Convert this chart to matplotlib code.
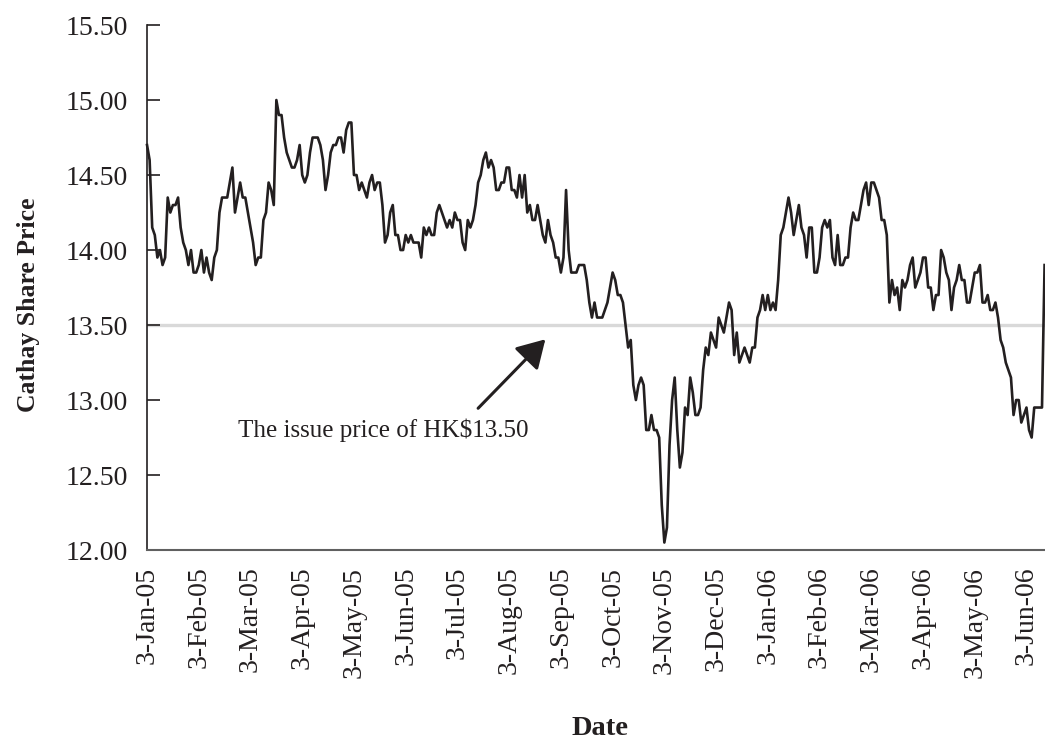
import numpy as np
import matplotlib.pyplot as plt

plt.rcParams['font.family'] = ['Liberation Serif', 'DejaVu Serif']

# Cathay share price (HK$), one value per trading day from 3-Jan-05
price = [
    # Jan-05 .. May-05
    14.70, 14.60, 14.15, 14.10, 13.95, 14.00, 13.90, 13.95, 14.35, 14.25,
    14.30, 14.30, 14.35, 14.15, 14.05, 14.00, 13.90, 14.00, 13.85, 13.85,
    13.90, 14.00, 13.85, 13.95, 13.85, 13.80, 13.95, 14.00, 14.25, 14.35,
    14.35, 14.35, 14.45, 14.55, 14.25, 14.35, 14.45, 14.35, 14.35, 14.25,
    14.15, 14.05, 13.90, 13.95, 13.95, 14.20, 14.25, 14.45, 14.40, 14.30,
    15.00, 14.90, 14.90, 14.75, 14.65, 14.60, 14.55, 14.55, 14.60, 14.70,
    14.50, 14.45, 14.50, 14.65, 14.75, 14.75, 14.75, 14.70, 14.60, 14.40,
    14.50, 14.65, 14.70, 14.70, 14.75, 14.75, 14.65, 14.80, 14.85, 14.85,
    14.50, 14.50, 14.40, 14.45, 14.40, 14.35, 14.45, 14.50,
    # May-05 .. Sep-05
    14.40, 14.45, 14.45, 14.30, 14.05, 14.10, 14.25, 14.30, 14.10, 14.10,
    14.00, 14.00, 14.10, 14.05, 14.10, 14.05, 14.05, 14.05, 13.95, 14.15,
    14.10, 14.15, 14.10, 14.10, 14.25, 14.30, 14.25, 14.20, 14.15, 14.20,
    14.15, 14.25, 14.20, 14.20, 14.05, 14.00, 14.20, 14.15, 14.20, 14.30,
    14.45, 14.50, 14.60, 14.65, 14.55, 14.60, 14.55, 14.40, 14.40, 14.45,
    14.45, 14.55, 14.55, 14.40, 14.40, 14.35, 14.50, 14.35, 14.50, 14.25,
    14.30, 14.20, 14.20, 14.30, 14.20, 14.10, 14.05, 14.20, 14.10, 14.05,
    13.95, 13.95, 13.85, 13.95, 14.40, 14.00, 13.85, 13.85, 13.85, 13.90,
    13.90, 13.90, 13.80, 13.65,
    # Sep-05 .. Jan-06
    13.55, 13.65, 13.55, 13.55, 13.55, 13.60, 13.65, 13.75, 13.85, 13.80,
    13.70, 13.70, 13.65, 13.50, 13.35, 13.40, 13.10, 13.00, 13.10, 13.15,
    13.10, 12.80, 12.80, 12.90, 12.80, 12.80, 12.75, 12.30, 12.05, 12.15,
    12.70, 13.00, 13.15, 12.80, 12.55, 12.65, 12.95, 12.90, 13.15, 13.05,
    12.90, 12.90, 12.95, 13.20, 13.35, 13.30, 13.45, 13.40, 13.35, 13.55,
    13.50, 13.45, 13.55, 13.65, 13.60, 13.30, 13.45, 13.25, 13.30, 13.35,
    13.30, 13.25, 13.35, 13.35, 13.55, 13.60, 13.70, 13.60, 13.70, 13.60,
    # Jan-06 .. Jun-06
    13.65, 13.60, 13.80, 14.10, 14.15, 14.25, 14.35, 14.25, 14.10, 14.20,
    14.30, 14.15, 14.10, 13.95, 14.15, 14.15, 13.85, 13.85, 13.95, 14.15,
    14.20, 14.15, 14.20, 13.95, 13.90, 14.10, 13.90, 13.90, 13.95, 13.95,
    14.15, 14.25, 14.20, 14.20, 14.30, 14.40, 14.45, 14.30, 14.45, 14.45,
    14.40, 14.35, 14.20, 14.20, 14.10, 13.65, 13.80, 13.70, 13.75, 13.60,
    13.80, 13.75, 13.80, 13.90, 13.95, 13.75, 13.80, 13.85, 13.95, 13.95,
    13.75, 13.75, 13.60, 13.70, 13.70, 14.00, 13.95, 13.85, 13.80, 13.60,
    13.75, 13.80, 13.90, 13.80, 13.80, 13.65, 13.65, 13.75, 13.85, 13.85,
    13.90, 13.65, 13.65, 13.70, 13.60, 13.60, 13.65, 13.55, 13.40, 13.35,
    13.25, 13.20, 13.15, 12.90, 13.00, 13.00, 12.85, 12.90, 12.95, 12.80,
    12.75, 12.95, 12.95, 12.95, 12.95, 13.90,
]

month_labels = ['3-Jan-05', '3-Feb-05', '3-Mar-05', '3-Apr-05', '3-May-05',
                '3-Jun-05', '3-Jul-05', '3-Aug-05', '3-Sep-05', '3-Oct-05',
                '3-Nov-05', '3-Dec-05', '3-Jan-06', '3-Feb-06', '3-Mar-06',
                '3-Apr-06', '3-May-06', '3-Jun-06']
label_every = 20  # trading days between labels

issue_price = 13.50
y_ticks = [12.0, 12.5, 13.0, 13.5, 14.0, 14.5, 15.0, 15.5]


def main():
    ink = '#231f20'
    fig = plt.figure(figsize=(10.45, 7.45), dpi=100)
    ax = fig.add_axes([0.1407, 0.2617, 0.8589, 0.7047])

    x = np.arange(len(price))
    ax.axhline(issue_price, color='#d9d9d9', lw=2.4, zorder=1)
    ax.plot(x, price, color=ink, lw=1.9, zorder=3, clip_on=False)

    ax.set_xlim(0, len(price) - 1)
    ax.set_ylim(12.0, 15.5)
    ax.set_xticks(np.arange(len(month_labels)) * label_every)
    ax.set_xticklabels(month_labels, rotation=90, fontsize=20, color=ink)
    ax.set_yticks(y_ticks)
    ax.set_yticklabels([f'{v:.2f}' for v in y_ticks], fontsize=20, color=ink)
    ax.tick_params(axis='x', length=0, pad=12)
    ax.tick_params(axis='y', direction='in', length=9, width=1.2,
                   color=ink, pad=14)

    for s in ['top', 'right']:
        ax.spines[s].set_visible(False)
    ax.spines['left'].set_color(ink)
    ax.spines['left'].set_linewidth(1.2)
    ax.spines['bottom'].set_color('#606060')
    ax.spines['bottom'].set_linewidth(1.5)

    ax.set_ylabel('Cathay Share Price', fontsize=18.5, fontweight='bold',
                  color=ink, labelpad=18)
    ax.yaxis.label.set_y(0.467)
    fig.text(0.574, 0.013, 'Date', fontsize=20.5, fontweight='bold',
             color=ink, ha='center', va='baseline')

    ax.annotate('', xy=(154, 13.405), xytext=(128, 12.945),
                arrowprops=dict(arrowstyle='-|>,head_length=0.85,head_width=0.5',
                                mutation_scale=20, lw=2.2, color=ink,
                                shrinkA=0, shrinkB=0))
    ax.text(35, 12.755, 'The issue price of HK$13.50', fontsize=18,
            color=ink, ha='left', va='baseline')

    fig.savefig('out.png', dpi=100)


if __name__ == '__main__':
    main()
